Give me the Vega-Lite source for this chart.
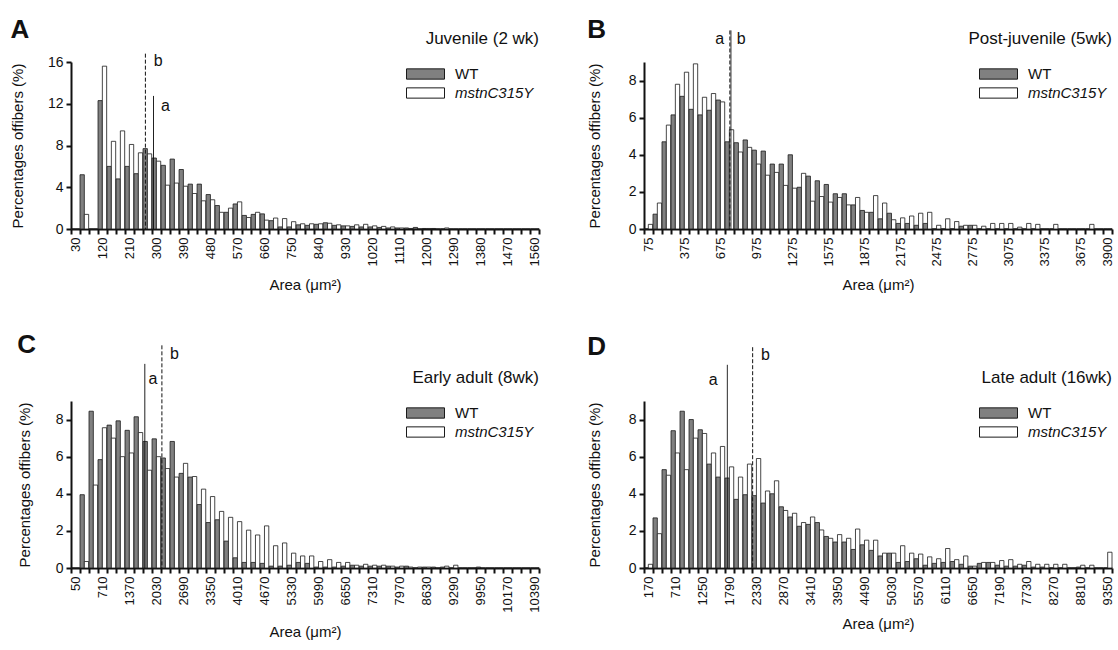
{
"$schema": "https://vega.github.io/schema/vega-lite/v6.json",
"padding": {"left": 10, "top": 16, "right": 0, "bottom": 0},
"datasets": {
"A": [
{"i":0,"WT":0,"mstnC315Y":0},{"i":1,"WT":5.2,"mstnC315Y":1.4},{"i":2,"WT":0,"mstnC315Y":0},{"i":3,"WT":12.3,"mstnC315Y":15.6},
{"i":4,"WT":6.0,"mstnC315Y":8.4},{"i":5,"WT":4.8,"mstnC315Y":9.4},{"i":6,"WT":6.0,"mstnC315Y":8.1},{"i":7,"WT":5.3,"mstnC315Y":7.3},
{"i":8,"WT":7.7,"mstnC315Y":7.2},{"i":9,"WT":6.8,"mstnC315Y":6.5},{"i":10,"WT":6.1,"mstnC315Y":4.2},{"i":11,"WT":6.7,"mstnC315Y":4.4},
{"i":12,"WT":5.7,"mstnC315Y":4.1},{"i":13,"WT":4.3,"mstnC315Y":3.4},{"i":14,"WT":4.3,"mstnC315Y":2.7},{"i":15,"WT":3.3,"mstnC315Y":2.8},
{"i":16,"WT":2.25,"mstnC315Y":1.6},{"i":17,"WT":1.6,"mstnC315Y":2.0},{"i":18,"WT":2.4,"mstnC315Y":2.6},{"i":19,"WT":1.3,"mstnC315Y":1.1},
{"i":20,"WT":1.4,"mstnC315Y":1.6},{"i":21,"WT":1.45,"mstnC315Y":0.85},{"i":22,"WT":0.8,"mstnC315Y":1.05},{"i":23,"WT":0.2,"mstnC315Y":1.0},
{"i":24,"WT":0.2,"mstnC315Y":0.7},{"i":25,"WT":0.4,"mstnC315Y":0.5},{"i":26,"WT":0.35,"mstnC315Y":0.5},{"i":27,"WT":0.45,"mstnC315Y":0.5},
{"i":28,"WT":0.6,"mstnC315Y":0.55},{"i":29,"WT":0.35,"mstnC315Y":0.4},{"i":30,"WT":0.3,"mstnC315Y":0.3},{"i":31,"WT":0.25,"mstnC315Y":0.4},
{"i":32,"WT":0.2,"mstnC315Y":0.45},{"i":33,"WT":0.2,"mstnC315Y":0.3},{"i":34,"WT":0.15,"mstnC315Y":0.25},{"i":35,"WT":0.1,"mstnC315Y":0.2},
{"i":36,"WT":0.1,"mstnC315Y":0.1},{"i":37,"WT":0.1,"mstnC315Y":0.05},{"i":38,"WT":0.15,"mstnC315Y":0},{"i":39,"WT":0.05,"mstnC315Y":0.05},
{"i":40,"WT":0.05,"mstnC315Y":0},{"i":41,"WT":0,"mstnC315Y":0.1},{"i":42,"WT":0,"mstnC315Y":0},{"i":43,"WT":0,"mstnC315Y":0},
{"i":44,"WT":0,"mstnC315Y":0},{"i":45,"WT":0,"mstnC315Y":0},{"i":46,"WT":0,"mstnC315Y":0},{"i":47,"WT":0,"mstnC315Y":0},
{"i":48,"WT":0,"mstnC315Y":0},{"i":49,"WT":0,"mstnC315Y":0},{"i":50,"WT":0,"mstnC315Y":0},{"i":51,"WT":0,"mstnC315Y":0}
],
"B": [
{"i":0,"WT":0,"mstnC315Y":0.25},{"i":1,"WT":0.8,"mstnC315Y":1.4},{"i":2,"WT":4.7,"mstnC315Y":5.6},{"i":3,"WT":6.15,"mstnC315Y":7.8},
{"i":4,"WT":7.15,"mstnC315Y":8.45},{"i":5,"WT":6.45,"mstnC315Y":8.9},{"i":6,"WT":6.15,"mstnC315Y":7.1},{"i":7,"WT":6.4,"mstnC315Y":7.3},
{"i":8,"WT":6.95,"mstnC315Y":6.85},{"i":9,"WT":4.7,"mstnC315Y":5.35},{"i":10,"WT":4.65,"mstnC315Y":4.15},{"i":11,"WT":4.8,"mstnC315Y":4.4},
{"i":12,"WT":4.25,"mstnC315Y":3.5},{"i":13,"WT":4.2,"mstnC315Y":2.9},{"i":14,"WT":3.5,"mstnC315Y":3.05},{"i":15,"WT":3.5,"mstnC315Y":2.35},
{"i":16,"WT":4.0,"mstnC315Y":2.2},{"i":17,"WT":2.25,"mstnC315Y":3.0},{"i":18,"WT":2.85,"mstnC315Y":1.5},{"i":19,"WT":2.6,"mstnC315Y":1.75},
{"i":20,"WT":2.4,"mstnC315Y":1.45},{"i":21,"WT":1.9,"mstnC315Y":1.7},{"i":22,"WT":1.9,"mstnC315Y":1.3},{"i":23,"WT":1.3,"mstnC315Y":1.7},
{"i":24,"WT":1.0,"mstnC315Y":0.9},{"i":25,"WT":0.9,"mstnC315Y":1.8},{"i":26,"WT":0.55,"mstnC315Y":1.4},{"i":27,"WT":0.85,"mstnC315Y":0.5},
{"i":28,"WT":0.3,"mstnC315Y":0.6},{"i":29,"WT":0.3,"mstnC315Y":0.7},{"i":30,"WT":0.2,"mstnC315Y":0.85},{"i":31,"WT":0.3,"mstnC315Y":0.9},
{"i":32,"WT":0,"mstnC315Y":0.2},{"i":33,"WT":0,"mstnC315Y":0.55},{"i":34,"WT":0,"mstnC315Y":0.4},{"i":35,"WT":0.15,"mstnC315Y":0.2},
{"i":36,"WT":0.2,"mstnC315Y":0.2},{"i":37,"WT":0,"mstnC315Y":0.15},{"i":38,"WT":0,"mstnC315Y":0.3},{"i":39,"WT":0,"mstnC315Y":0.3},
{"i":40,"WT":0,"mstnC315Y":0.3},{"i":41,"WT":0,"mstnC315Y":0.1},{"i":42,"WT":0,"mstnC315Y":0.3},{"i":43,"WT":0,"mstnC315Y":0.25},
{"i":44,"WT":0,"mstnC315Y":0},{"i":45,"WT":0,"mstnC315Y":0.25},{"i":46,"WT":0,"mstnC315Y":0},{"i":47,"WT":0,"mstnC315Y":0},
{"i":48,"WT":0,"mstnC315Y":0},{"i":49,"WT":0,"mstnC315Y":0.25},{"i":50,"WT":0,"mstnC315Y":0},{"i":51,"WT":0,"mstnC315Y":0}
],
"C": [
{"i":0,"WT":0,"mstnC315Y":0},{"i":1,"WT":3.95,"mstnC315Y":0.35},{"i":2,"WT":8.45,"mstnC315Y":4.47},{"i":3,"WT":5.84,"mstnC315Y":7.56},
{"i":4,"WT":7.7,"mstnC315Y":7.0},{"i":5,"WT":7.93,"mstnC315Y":6.0},{"i":6,"WT":7.42,"mstnC315Y":6.2},{"i":7,"WT":8.15,"mstnC315Y":7.3},
{"i":8,"WT":6.82,"mstnC315Y":5.27},{"i":9,"WT":6.96,"mstnC315Y":6.0},{"i":10,"WT":5.93,"mstnC315Y":5.36},{"i":11,"WT":6.82,"mstnC315Y":4.9},
{"i":12,"WT":5.1,"mstnC315Y":5.64},{"i":13,"WT":4.9,"mstnC315Y":4.93},{"i":14,"WT":3.42,"mstnC315Y":4.25},{"i":15,"WT":2.45,"mstnC315Y":3.85},
{"i":16,"WT":2.6,"mstnC315Y":3.05},{"i":17,"WT":1.45,"mstnC315Y":2.73},{"i":18,"WT":0.55,"mstnC315Y":2.5},{"i":19,"WT":0.3,"mstnC315Y":2.04},
{"i":20,"WT":0.3,"mstnC315Y":1.78},{"i":21,"WT":0.25,"mstnC315Y":2.27},{"i":22,"WT":0.1,"mstnC315Y":1.2},{"i":23,"WT":0.1,"mstnC315Y":1.35},
{"i":24,"WT":0.15,"mstnC315Y":0.8},{"i":25,"WT":0.3,"mstnC315Y":0.65},{"i":26,"WT":0.25,"mstnC315Y":0.65},{"i":27,"WT":0.05,"mstnC315Y":0.35},
{"i":28,"WT":0.05,"mstnC315Y":0.45},{"i":29,"WT":0.05,"mstnC315Y":0.3},{"i":30,"WT":0.1,"mstnC315Y":0.3},{"i":31,"WT":0.15,"mstnC315Y":0.15},
{"i":32,"WT":0.1,"mstnC315Y":0.2},{"i":33,"WT":0.1,"mstnC315Y":0.15},{"i":34,"WT":0.1,"mstnC315Y":0.15},{"i":35,"WT":0.1,"mstnC315Y":0.1},
{"i":36,"WT":0.05,"mstnC315Y":0.1},{"i":37,"WT":0.1,"mstnC315Y":0.05},{"i":38,"WT":0,"mstnC315Y":0.05},{"i":39,"WT":0.05,"mstnC315Y":0.05},
{"i":40,"WT":0.05,"mstnC315Y":0},{"i":41,"WT":0.05,"mstnC315Y":0.1},{"i":42,"WT":0,"mstnC315Y":0.15},{"i":43,"WT":0,"mstnC315Y":0},
{"i":44,"WT":0,"mstnC315Y":0},{"i":45,"WT":0.05,"mstnC315Y":0},{"i":46,"WT":0,"mstnC315Y":0},{"i":47,"WT":0,"mstnC315Y":0},
{"i":48,"WT":0,"mstnC315Y":0},{"i":49,"WT":0,"mstnC315Y":0},{"i":50,"WT":0,"mstnC315Y":0},{"i":51,"WT":0,"mstnC315Y":0}
],
"D": [
{"i":0,"WT":0,"mstnC315Y":0.2},{"i":1,"WT":2.7,"mstnC315Y":1.85},{"i":2,"WT":5.3,"mstnC315Y":5.0},{"i":3,"WT":7.4,"mstnC315Y":6.2},
{"i":4,"WT":8.45,"mstnC315Y":5.3},{"i":5,"WT":8.0,"mstnC315Y":7.0},{"i":6,"WT":7.45,"mstnC315Y":7.25},{"i":7,"WT":5.6,"mstnC315Y":6.2},
{"i":8,"WT":4.9,"mstnC315Y":6.55},{"i":9,"WT":4.85,"mstnC315Y":5.45},{"i":10,"WT":3.7,"mstnC315Y":4.9},{"i":11,"WT":3.95,"mstnC315Y":5.6},
{"i":12,"WT":3.9,"mstnC315Y":5.9},{"i":13,"WT":3.5,"mstnC315Y":4.15},{"i":14,"WT":4.0,"mstnC315Y":4.7},{"i":15,"WT":3.3,"mstnC315Y":3.1},
{"i":16,"WT":2.75,"mstnC315Y":2.95},{"i":17,"WT":2.25,"mstnC315Y":2.45},{"i":18,"WT":2.35,"mstnC315Y":2.75},{"i":19,"WT":2.45,"mstnC315Y":2.05},
{"i":20,"WT":1.7,"mstnC315Y":1.6},{"i":21,"WT":1.4,"mstnC315Y":1.8},{"i":22,"WT":1.4,"mstnC315Y":1.6},{"i":23,"WT":1.0,"mstnC315Y":2.1},
{"i":24,"WT":1.25,"mstnC315Y":1.5},{"i":25,"WT":0.95,"mstnC315Y":1.5},{"i":26,"WT":0.65,"mstnC315Y":0.8},{"i":27,"WT":0.8,"mstnC315Y":0.8},
{"i":28,"WT":0.3,"mstnC315Y":1.2},{"i":29,"WT":0.35,"mstnC315Y":0.8},{"i":30,"WT":0.5,"mstnC315Y":0.75},{"i":31,"WT":0.15,"mstnC315Y":0.6},
{"i":32,"WT":0.25,"mstnC315Y":0.5},{"i":33,"WT":0.3,"mstnC315Y":1.05},{"i":34,"WT":0.35,"mstnC315Y":0.45},{"i":35,"WT":0.2,"mstnC315Y":0.65},
{"i":36,"WT":0.1,"mstnC315Y":0.1},{"i":37,"WT":0.25,"mstnC315Y":0.3},{"i":38,"WT":0.3,"mstnC315Y":0.3},{"i":39,"WT":0.15,"mstnC315Y":0.4},
{"i":40,"WT":0.1,"mstnC315Y":0.45},{"i":41,"WT":0.1,"mstnC315Y":0.2},{"i":42,"WT":0.15,"mstnC315Y":0.35},{"i":43,"WT":0.05,"mstnC315Y":0.2},
{"i":44,"WT":0.05,"mstnC315Y":0.2},{"i":45,"WT":0,"mstnC315Y":0.2},{"i":46,"WT":0,"mstnC315Y":0.2},{"i":47,"WT":0,"mstnC315Y":0},
{"i":48,"WT":0.05,"mstnC315Y":0.15},{"i":49,"WT":0,"mstnC315Y":0.15},{"i":50,"WT":0,"mstnC315Y":0},{"i":51,"WT":0,"mstnC315Y":0.85}
],
"LA": [{"t":"b","x":263,"top":16.8,"lx":306,"ly":16.1},{"t":"a","x":290,"top":12.75,"lx":330,"ly":11.8}],
"LB": [{"t":"b","x":753,"top":10.7,"lx":848,"ly":10.25},{"t":"a","x":762,"top":10.7,"lx":668,"ly":10.25}],
"LC": [{"t":"a","x":1744,"top":11.0,"lx":1942,"ly":10.2},{"t":"b","x":2162,"top":12.0,"lx":2470,"ly":11.55}],
"LD": [{"t":"a","x":1747,"top":10.95,"lx":1466,"ly":10.15},{"t":"b","x":2253,"top":11.9,"lx":2510,"ly":11.5}],
"TA": [{"name":"Juvenile (2 wk)","x":1575,"y":18.2}],
"TB": [{"name":"Post-juvenile (5wk)","x":3937.5,"y":10.24}],
"TC": [{"name":"Early adult (8wk)","x":11380,"y":10.24}],
"TD": [{"name":"Late adult (16wk)","x":9440,"y":10.24}]
},
"vconcat": [
{"hconcat": [
{"width": 468, "height": 167,
 "title": {"text": "A", "anchor": "start", "frame": "bounds", "fontSize": 26, "fontWeight": "bold", "offset": -13, "color": "#111"},
 "layer": [
  {"data": {"name": "A"},
   "transform": [{"fold": ["WT", "mstnC315Y"], "as": ["g", "v"]}],
   "mark": {"type": "bar", "stroke": "#1a1a1a", "strokeWidth": 0.8},
   "encoding": {
    "x": {"field": "i", "type": "ordinal", "scale": {"paddingInner": 0.04, "paddingOuter": 0},
      "axis": {"title": "Area (μm²)", "labelAngle": -90, "labelOverlap": false, "tickBand": "extent",
        "labelExpr": "datum.value % 3 == 0 ? ['30','120','210','300','390','480','570','660','750','840','930','1020','1110','1200','1290','1380','1470','1560'][datum.value / 3] : ''"}},
    "xOffset": {"field": "g", "type": "nominal", "sort": ["WT", "mstnC315Y"]},
    "y": {"field": "v", "type": "quantitative", "scale": {"domain": [0, 16], "nice": false},
      "axis": {"title": "Percentages offibers (%)", "values": [0,2,4,6,8,10,12,14,16], "tickCount": 8, "labelOverlap": false, "labelSeparation": -40, "titlePadding": 22}},
    "fill": {"field": "g", "type": "nominal", "scale": {"domain": ["WT", "mstnC315Y"], "range": ["#808080", "#ffffff"]},
      "legend": {"title": null, "encode": {"labels": {"update": {"fontStyle": {"signal": "datum.label == 'mstnC315Y' ? 'italic' : 'normal'"}}}}}}
   }},
  {"layer": [
    {"data": {"name": "LA"}, "mark": {"type": "rule", "color": "#111", "strokeWidth": 1},
     "encoding": {"x": {"field": "x", "type": "quantitative", "scale": {"domain": [15, 1575], "nice": false, "zero": false}, "axis": null},
       "y": {"field": "top", "type": "quantitative", "axis": {"title": "Percentages offibers (%)", "values": [0,2,4,6,8,10,12,14,16], "tickCount": 8, "labelOverlap": false, "labelSeparation": -40, "titlePadding": 22}}, "y2": {"datum": 0},
       "strokeDash": {"field": "t", "type": "nominal", "scale": {"domain": ["a", "b"], "range": [[1, 0], [4, 2]]}, "legend": null}}},
    {"data": {"name": "LA"}, "mark": {"type": "text", "fontSize": 16, "color": "#111"},
     "encoding": {"x": {"field": "lx", "type": "quantitative", "axis": null},
       "y": {"field": "ly", "type": "quantitative", "axis": {"title": "Percentages offibers (%)", "values": [0,2,4,6,8,10,12,14,16], "tickCount": 8, "labelOverlap": false, "labelSeparation": -40, "titlePadding": 22}}, "text": {"field": "t"}}},
    {"data": {"name": "TA"}, "mark": {"type": "text", "fontSize": 17, "align": "right", "color": "#111"},
     "encoding": {"x": {"field": "x", "type": "quantitative", "axis": null},
       "y": {"field": "y", "type": "quantitative", "axis": {"title": "Percentages offibers (%)", "values": [0,2,4,6,8,10,12,14,16], "tickCount": 8, "labelOverlap": false, "labelSeparation": -40, "titlePadding": 22}}, "text": {"field": "name"}}}
  ]}
 ],
 "resolve": {"scale": {"x": "independent"}}
},
{"width": 468, "height": 167,
 "title": {"text": "B", "anchor": "start", "frame": "bounds", "fontSize": 26, "fontWeight": "bold", "offset": -13, "color": "#111"},
 "layer": [
  {"data": {"name": "B"},
   "transform": [{"fold": ["WT", "mstnC315Y"], "as": ["g", "v"]}],
   "mark": {"type": "bar", "stroke": "#1a1a1a", "strokeWidth": 0.8},
   "encoding": {
    "x": {"field": "i", "type": "ordinal", "scale": {"paddingInner": 0.04, "paddingOuter": 0},
      "axis": {"title": "Area (μm²)", "labelAngle": -90, "labelOverlap": false, "tickBand": "extent",
        "labelExpr": "datum.value % 4 == 0 ? ['75','375','675','975','1275','1575','1875','2175','2475','2775','3075','3375','3675'][datum.value / 4] : (datum.value == 51 ? '3900' : '')"}},
    "xOffset": {"field": "g", "type": "nominal", "sort": ["WT", "mstnC315Y"]},
    "y": {"field": "v", "type": "quantitative", "scale": {"domain": [0, 9], "nice": false},
      "axis": {"title": "Percentages offibers (%)", "values": [0,1,2,3,4,5,6,7,8,9], "tickCount": 9, "labelOverlap": false, "labelSeparation": -40, "titlePadding": 26}},
    "fill": {"field": "g", "type": "nominal", "scale": {"domain": ["WT", "mstnC315Y"], "range": ["#808080", "#ffffff"]},
      "legend": {"title": null, "encode": {"labels": {"update": {"fontStyle": {"signal": "datum.label == 'mstnC315Y' ? 'italic' : 'normal'"}}}}}}
   }},
  {"layer": [
    {"data": {"name": "LB"}, "mark": {"type": "rule", "color": "#111", "strokeWidth": 1},
     "encoding": {"x": {"field": "x", "type": "quantitative", "scale": {"domain": [37.5, 3937.5], "nice": false, "zero": false}, "axis": null},
       "y": {"field": "top", "type": "quantitative", "axis": {"title": "Percentages offibers (%)", "values": [0,1,2,3,4,5,6,7,8,9], "tickCount": 9, "labelOverlap": false, "labelSeparation": -40, "titlePadding": 26}}, "y2": {"datum": 0},
       "strokeDash": {"field": "t", "type": "nominal", "scale": {"domain": ["a", "b"], "range": [[1, 0], [4, 2]]}, "legend": null}}},
    {"data": {"name": "LB"}, "mark": {"type": "text", "fontSize": 16, "color": "#111"},
     "encoding": {"x": {"field": "lx", "type": "quantitative", "axis": null},
       "y": {"field": "ly", "type": "quantitative", "axis": {"title": "Percentages offibers (%)", "values": [0,1,2,3,4,5,6,7,8,9], "tickCount": 9, "labelOverlap": false, "labelSeparation": -40, "titlePadding": 26}}, "text": {"field": "t"}}},
    {"data": {"name": "TB"}, "mark": {"type": "text", "fontSize": 17, "align": "right", "color": "#111"},
     "encoding": {"x": {"field": "x", "type": "quantitative", "axis": null},
       "y": {"field": "y", "type": "quantitative", "axis": {"title": "Percentages offibers (%)", "values": [0,1,2,3,4,5,6,7,8,9], "tickCount": 9, "labelOverlap": false, "labelSeparation": -40, "titlePadding": 26}}, "text": {"field": "name"}}}
  ]}
 ],
 "resolve": {"scale": {"x": "independent"}}
}
], "spacing": 45,
"resolve": {"scale": {"fill": "independent", "strokeDash": "independent", "xOffset": "independent"}, "legend": {"fill": "independent"}}},
{"hconcat": [
{"width": 468, "height": 167,
 "title": {"text": "C", "anchor": "start", "frame": "bounds", "fontSize": 26, "fontWeight": "bold", "offset": -13, "color": "#111"},
 "layer": [
  {"data": {"name": "C"},
   "transform": [{"fold": ["WT", "mstnC315Y"], "as": ["g", "v"]}],
   "mark": {"type": "bar", "stroke": "#1a1a1a", "strokeWidth": 0.8},
   "encoding": {
    "x": {"field": "i", "type": "ordinal", "scale": {"paddingInner": 0.04, "paddingOuter": 0},
      "axis": {"title": "Area (μm²)", "labelAngle": -90, "labelOverlap": false, "tickBand": "extent",
        "labelExpr": "datum.value % 3 == 0 ? ['50','710','1370','2030','2690','3350','4010','4670','5330','5990','6650','7310','7970','8630','9290','9950','10170','10390'][datum.value / 3] : ''"}},
    "xOffset": {"field": "g", "type": "nominal", "sort": ["WT", "mstnC315Y"]},
    "y": {"field": "v", "type": "quantitative", "scale": {"domain": [0, 9], "nice": false},
      "axis": {"title": "Percentages offibers (%)", "values": [0,1,2,3,4,5,6,7,8,9], "tickCount": 9, "labelOverlap": false, "labelSeparation": -40, "titlePadding": 23}},
    "fill": {"field": "g", "type": "nominal", "scale": {"domain": ["WT", "mstnC315Y"], "range": ["#808080", "#ffffff"]},
      "legend": {"title": null, "encode": {"labels": {"update": {"fontStyle": {"signal": "datum.label == 'mstnC315Y' ? 'italic' : 'normal'"}}}}}}
   }},
  {"layer": [
    {"data": {"name": "LC"}, "mark": {"type": "rule", "color": "#111", "strokeWidth": 1},
     "encoding": {"x": {"field": "x", "type": "quantitative", "scale": {"domain": [-60, 11380], "nice": false, "zero": false}, "axis": null},
       "y": {"field": "top", "type": "quantitative", "axis": {"title": "Percentages offibers (%)", "values": [0,1,2,3,4,5,6,7,8,9], "tickCount": 9, "labelOverlap": false, "labelSeparation": -40, "titlePadding": 23}}, "y2": {"datum": 0},
       "strokeDash": {"field": "t", "type": "nominal", "scale": {"domain": ["a", "b"], "range": [[1, 0], [4, 2]]}, "legend": null}}},
    {"data": {"name": "LC"}, "mark": {"type": "text", "fontSize": 16, "color": "#111"},
     "encoding": {"x": {"field": "lx", "type": "quantitative", "axis": null},
       "y": {"field": "ly", "type": "quantitative", "axis": {"title": "Percentages offibers (%)", "values": [0,1,2,3,4,5,6,7,8,9], "tickCount": 9, "labelOverlap": false, "labelSeparation": -40, "titlePadding": 23}}, "text": {"field": "t"}}},
    {"data": {"name": "TC"}, "mark": {"type": "text", "fontSize": 17, "align": "right", "color": "#111"},
     "encoding": {"x": {"field": "x", "type": "quantitative", "axis": null},
       "y": {"field": "y", "type": "quantitative", "axis": {"title": "Percentages offibers (%)", "values": [0,1,2,3,4,5,6,7,8,9], "tickCount": 9, "labelOverlap": false, "labelSeparation": -40, "titlePadding": 23}}, "text": {"field": "name"}}}
  ]}
 ],
 "resolve": {"scale": {"x": "independent"}}
},
{"width": 468, "height": 167,
 "title": {"text": "D", "anchor": "start", "frame": "bounds", "fontSize": 26, "fontWeight": "bold", "offset": -13, "color": "#111"},
 "layer": [
  {"data": {"name": "D"},
   "transform": [{"fold": ["WT", "mstnC315Y"], "as": ["g", "v"]}],
   "mark": {"type": "bar", "stroke": "#1a1a1a", "strokeWidth": 0.8},
   "encoding": {
    "x": {"field": "i", "type": "ordinal", "scale": {"paddingInner": 0.04, "paddingOuter": 0},
      "axis": {"title": "Area (μm²)", "labelAngle": -90, "labelOverlap": false, "tickBand": "extent",
        "labelExpr": "datum.value % 3 == 0 ? ['170','710','1250','1790','2330','2870','3410','3950','4490','5030','5570','6110','6650','7190','7730','8270','8810','9350'][datum.value / 3] : ''"}},
    "xOffset": {"field": "g", "type": "nominal", "sort": ["WT", "mstnC315Y"]},
    "y": {"field": "v", "type": "quantitative", "scale": {"domain": [0, 9], "nice": false},
      "axis": {"title": "Percentages offibers (%)", "values": [0,1,2,3,4,5,6,7,8,9], "tickCount": 9, "labelOverlap": false, "labelSeparation": -40, "titlePadding": 26}},
    "fill": {"field": "g", "type": "nominal", "scale": {"domain": ["WT", "mstnC315Y"], "range": ["#808080", "#ffffff"]},
      "legend": {"title": null, "encode": {"labels": {"update": {"fontStyle": {"signal": "datum.label == 'mstnC315Y' ? 'italic' : 'normal'"}}}}}}
   }},
  {"layer": [
    {"data": {"name": "LD"}, "mark": {"type": "rule", "color": "#111", "strokeWidth": 1},
     "encoding": {"x": {"field": "x", "type": "quantitative", "scale": {"domain": [80, 9440], "nice": false, "zero": false}, "axis": null},
       "y": {"field": "top", "type": "quantitative", "axis": {"title": "Percentages offibers (%)", "values": [0,1,2,3,4,5,6,7,8,9], "tickCount": 9, "labelOverlap": false, "labelSeparation": -40, "titlePadding": 26}}, "y2": {"datum": 0},
       "strokeDash": {"field": "t", "type": "nominal", "scale": {"domain": ["a", "b"], "range": [[1, 0], [4, 2]]}, "legend": null}}},
    {"data": {"name": "LD"}, "mark": {"type": "text", "fontSize": 16, "color": "#111"},
     "encoding": {"x": {"field": "lx", "type": "quantitative", "axis": null},
       "y": {"field": "ly", "type": "quantitative", "axis": {"title": "Percentages offibers (%)", "values": [0,1,2,3,4,5,6,7,8,9], "tickCount": 9, "labelOverlap": false, "labelSeparation": -40, "titlePadding": 26}}, "text": {"field": "t"}}},
    {"data": {"name": "TD"}, "mark": {"type": "text", "fontSize": 17, "align": "right", "color": "#111"},
     "encoding": {"x": {"field": "x", "type": "quantitative", "axis": null},
       "y": {"field": "y", "type": "quantitative", "axis": {"title": "Percentages offibers (%)", "values": [0,1,2,3,4,5,6,7,8,9], "tickCount": 9, "labelOverlap": false, "labelSeparation": -40, "titlePadding": 26}}, "text": {"field": "name"}}}
  ]}
 ],
 "resolve": {"scale": {"x": "independent"}}
}
], "spacing": 45,
"resolve": {"scale": {"fill": "independent", "strokeDash": "independent", "xOffset": "independent"}, "legend": {"fill": "independent"}}}
],
"spacing": 38,
"resolve": {"scale": {"fill": "independent", "strokeDash": "independent", "xOffset": "independent"}, "legend": {"fill": "independent"}},
"config": {
 "font": "Liberation Sans",
 "view": {"stroke": null},
 "axis": {"domainColor": "#111", "domainWidth": 2, "tickColor": "#111", "tickWidth": 2, "tickSize": 5,
   "labelFontSize": 14, "labelColor": "#111", "labelPadding": 3, "titleFontSize": 15, "titleFontWeight": "normal",
   "titleColor": "#111", "titlePadding": 14, "grid": false, "labelFont": "Liberation Sans", "titleFont": "Liberation Sans", "labelOverlap": false},
 "axisY": {"labelOverlap": false, "labelSeparation": -40},
 "axisQuantitative": {"labelOverlap": false},
 "axisX": {"labelFontSize": 13, "titlePadding": 12},
 "legend": {"orient": "top-right", "offset": 5, "padding": 0,
   "symbolType": "M-1,-0.27H1V0.27H-1Z", "symbolSize": 1444, "symbolStrokeColor": "#1a1a1a", "symbolStrokeWidth": 1,
   "symbolOpacity": 1, "labelFontSize": 15, "labelColor": "#111", "labelOffset": 10, "rowPadding": 4, "clipHeight": 14,
   "labelFont": "Liberation Sans"},
 "text": {"font": "Liberation Sans"},
 "title": {"color": "#111", "font": "Liberation Sans"}
}
}
